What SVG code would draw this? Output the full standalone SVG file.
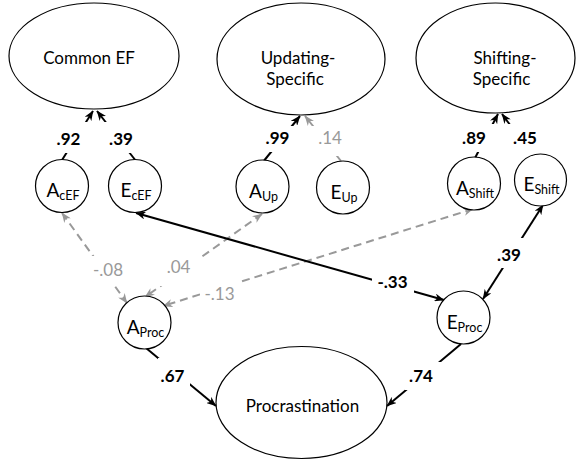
<svg xmlns="http://www.w3.org/2000/svg" width="576" height="461" viewBox="0 0 576 461">
<style>
.node{fill:#fff;stroke:#000;stroke-width:1.2}
.t{font-family:Lato,"Open Sans","Liberation Sans",sans-serif;font-size:17px;fill:#000;text-anchor:middle}
.c{font-family:Lato,"Open Sans","Liberation Sans",sans-serif;font-size:19px;fill:#000;text-anchor:middle}
.sub{font-size:12.5px}
.lb{font-family:Lato,"Open Sans","Liberation Sans",sans-serif;font-size:17px;font-weight:bold;fill:#000;text-anchor:middle}
.lg{font-family:Lato,"Open Sans","Liberation Sans",sans-serif;font-size:17px;fill:#999;text-anchor:middle}
.bg{fill:#fff}
.k{stroke:#000;stroke-width:2;fill:none}
.g{stroke:#999;stroke-width:2;fill:none;stroke-dasharray:8 5}
.gs{stroke:#999;stroke-width:2;fill:none}
</style>
<defs>
<marker id="ak" viewBox="0 0 10 8" refX="9.5" refY="4" markerWidth="10" markerHeight="8" orient="auto-start-reverse" markerUnits="userSpaceOnUse"><path d="M0,0 L10,4 L0,8 L3,4 z" fill="#000"/></marker>
<marker id="ag" viewBox="0 0 10 8" refX="9.5" refY="4" markerWidth="10" markerHeight="8" orient="auto-start-reverse" markerUnits="userSpaceOnUse"><path d="M0,0 L10,4 L0,8 L3,4 z" fill="#999"/></marker>
</defs>
<g id="connectors">
<line class="k" x1="62" y1="160" x2="93" y2="111" marker-end="url(#ak)"/>
<line class="k" x1="136" y1="161" x2="97" y2="111" marker-end="url(#ak)"/>
<line class="k" x1="263" y1="162" x2="300" y2="116" marker-end="url(#ak)"/>
<line class="gs" x1="341" y1="161" x2="305" y2="116" marker-end="url(#ag)"/>
<line class="k" x1="475" y1="158" x2="498" y2="114" marker-end="url(#ak)"/>
<line class="k" x1="533" y1="156" x2="502" y2="114" marker-end="url(#ak)"/>
<line class="g" x1="62" y1="213" x2="127" y2="303" marker-start="url(#ag)" marker-end="url(#ag)"/>
<line class="g" x1="262" y1="214" x2="145" y2="297" marker-start="url(#ag)" marker-end="url(#ag)"/>
<line class="g" x1="473" y1="209" x2="163" y2="306" marker-start="url(#ag)" marker-end="url(#ag)"/>
<line class="k" x1="136" y1="213" x2="444" y2="300" marker-start="url(#ak)" marker-end="url(#ak)"/>
<line class="k" x1="543" y1="205" x2="483" y2="299" marker-start="url(#ak)" marker-end="url(#ak)"/>
<line class="k" x1="146" y1="348" x2="216" y2="406" marker-end="url(#ak)"/>
<line class="k" x1="461" y1="344" x2="387" y2="406" marker-end="url(#ak)"/>
</g>
<g id="labels">
<g id="l92"><rect class="bg" x="50" y="122" width="40" height="31"/><text class="lb" x="68.5" y="145">.92</text></g>
<g id="l39a"><rect class="bg" x="101" y="122" width="38" height="31"/><text class="lb" x="121" y="145">.39</text></g>
<g id="l99"><rect class="bg" x="260" y="126" width="36" height="26"/><text class="lb" x="277.5" y="144">.99</text></g>
<g id="l14"><rect class="bg" x="310" y="126" width="35" height="30"/><text class="lg" x="330" y="144">.14</text></g>
<g id="l89"><rect class="bg" x="460" y="124" width="36" height="28"/><text class="lb" x="474" y="144">.89</text></g>
<g id="l45"><rect class="bg" x="506" y="124" width="34" height="31"/><text class="lb" x="525" y="144">.45</text></g>
<g id="l08"><rect class="bg" x="90" y="256" width="36" height="28"/><text class="lg" x="108" y="276">-.08</text></g>
<g id="l04"><rect class="bg" x="158" y="258" width="42" height="28"/><text class="lg" x="178.5" y="273">.04</text></g>
<g id="l13"><rect class="bg" x="200" y="280" width="38" height="22"/><text class="lg" x="219.5" y="300">-.13</text></g>
<g id="l33"><rect class="bg" x="372" y="273" width="42" height="22"/><text class="lb" x="392.5" y="288">-.33</text></g>
<g id="l39b"><rect class="bg" x="496" y="238" width="28" height="30"/><text class="lb" x="509" y="261">.39</text></g>
<g id="l67"><rect class="bg" x="158" y="358" width="32" height="32"/><text class="lb" x="172.5" y="382">.67</text></g>
<g id="l74"><rect class="bg" x="405" y="362" width="36" height="28"/><text class="lb" x="421" y="382">.74</text></g>
</g>
<g id="CommonEF"><ellipse class="node" cx="94" cy="56" rx="85" ry="53"/><text class="t" x="89" y="64">Common EF</text></g>
<g id="UpdatingSpecific"><ellipse class="node" cx="301" cy="59" rx="84" ry="56"/><text class="t" x="298" y="64">Updating-</text><text class="t" x="295" y="85">Specific</text></g>
<g id="ShiftingSpecific"><ellipse class="node" cx="495.5" cy="58" rx="79.5" ry="55"/><text class="t" x="505" y="64">Shifting-</text><text class="t" x="501.5" y="85">Specific</text></g>
<g id="Procrastination"><ellipse class="node" cx="301.5" cy="402.5" rx="85.5" ry="56"/><text class="t" x="302.5" y="412">Procrastination</text></g>
<g id="AcEF"><circle class="node" cx="62" cy="186" r="26.5"/><text class="c" x="63" y="197">A<tspan class="sub" dy="3">cEF</tspan></text></g>
<g id="EcEF"><circle class="node" cx="135" cy="186" r="26.5"/><text class="c" x="136" y="197">E<tspan class="sub" dy="3">cEF</tspan></text></g>
<g id="AUp"><circle class="node" cx="262.5" cy="186.5" r="26.5"/><text class="c" x="263.5" y="197.5">A<tspan class="sub" dy="3">Up</tspan></text></g>
<g id="EUp"><circle class="node" cx="343" cy="187.5" r="26.5"/><text class="c" x="344" y="198.5">E<tspan class="sub" dy="3">Up</tspan></text></g>
<g id="AShift"><circle class="node" cx="474" cy="183.5" r="26.5"/><text class="c" x="475" y="194.5">A<tspan class="sub" dy="3">Shift</tspan></text></g>
<g id="EShift"><circle class="node" cx="540.5" cy="180" r="26"/><text class="c" x="541.5" y="191">E<tspan class="sub" dy="3">Shift</tspan></text></g>
<g id="AProc"><circle class="node" cx="144.5" cy="322.5" r="26.5"/><text class="c" x="145.5" y="333.5">A<tspan class="sub" dy="3">Proc</tspan></text></g>
<g id="EProc"><circle class="node" cx="463.5" cy="317.5" r="26.5"/><text class="c" x="464.5" y="328.5">E<tspan class="sub" dy="3">Proc</tspan></text></g>
</svg>
